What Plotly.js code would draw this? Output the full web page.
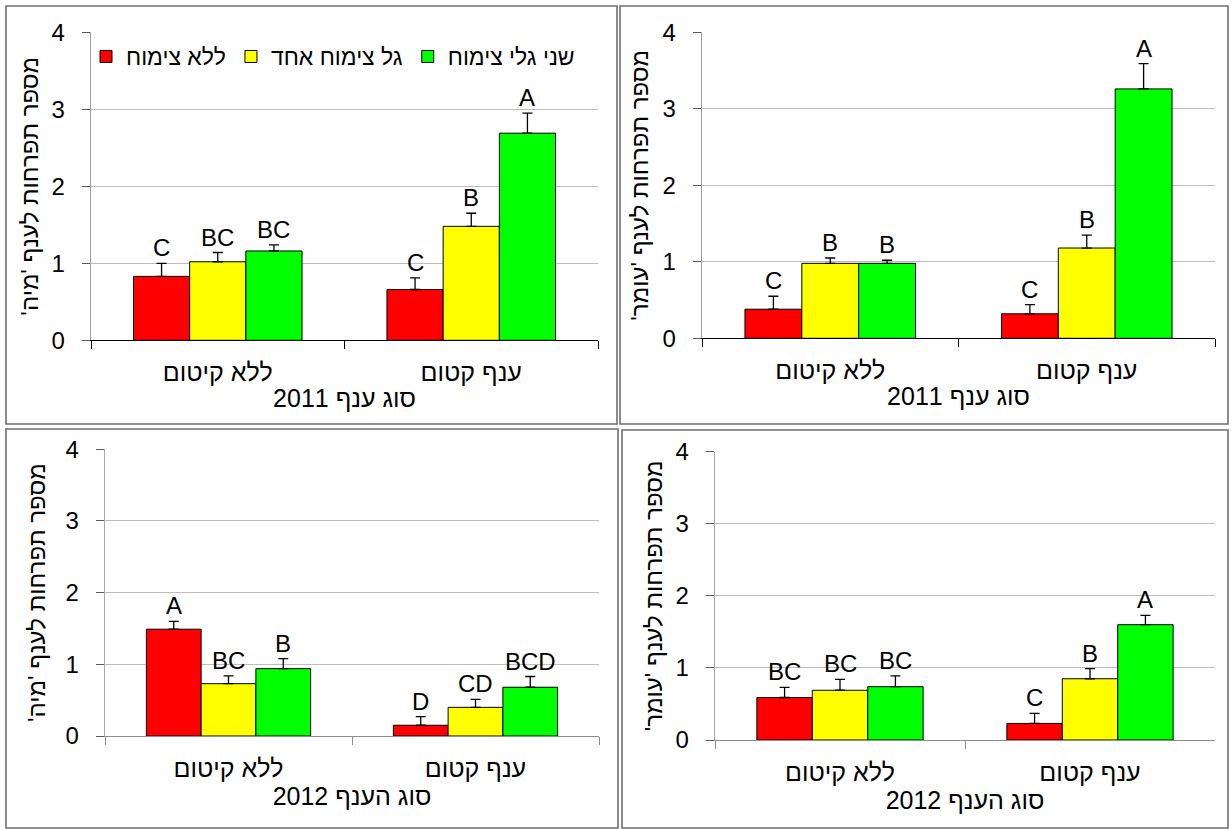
<!DOCTYPE html>
<html>
<head>
<meta charset="utf-8">
<script src="https://cdn.plot.ly/plotly-3.0.1.min.js"></script>
<style>
  html, body { margin: 0; padding: 0; background: #fff; }
  #chart { width: 1232px; height: 830px; }
</style>
</head>
<body>
<div id="chart"></div>
<script>
// ---------- data ----------
const categories = ['ללא קיטום', 'ענף קטום'];
const seriesNames = ['ללא צימוח', 'גל צימוח אחד', 'שני גלי צימוח'];

// Panel 1: 'מיה' 2011
const maya2011_none = [0.83, 0.66];
const maya2011_one  = [1.02, 1.48];
const maya2011_two  = [1.16, 2.69];
const maya2011_none_err = [0.17, 0.15];
const maya2011_one_err  = [0.12, 0.17];
const maya2011_two_err  = [0.08, 0.26];
const maya2011_none_lbl = ['C', 'C'];
const maya2011_one_lbl  = ['BC', 'B'];
const maya2011_two_lbl  = ['BC', 'A'];

// Panel 2: 'עומר' 2011
const omer2011_none = [0.38, 0.32];
const omer2011_one  = [0.98, 1.18];
const omer2011_two  = [0.98, 3.26];
const omer2011_none_err = [0.17, 0.12];
const omer2011_one_err  = [0.07, 0.17];
const omer2011_two_err  = [0.04, 0.33];
const omer2011_none_lbl = ['C', 'C'];
const omer2011_one_lbl  = ['B', 'B'];
const omer2011_two_lbl  = ['B', 'A'];

// Panel 3: 'מיה' 2012
const maya2012_none = [1.49, 0.15];
const maya2012_one  = [0.73, 0.40];
const maya2012_two  = [0.94, 0.68];
const maya2012_none_err = [0.11, 0.12];
const maya2012_one_err  = [0.11, 0.11];
const maya2012_two_err  = [0.14, 0.15];
const maya2012_none_lbl = ['A', 'D'];
const maya2012_one_lbl  = ['BC', 'CD'];
const maya2012_two_lbl  = ['B', 'BCD'];

// Panel 4: 'עומר' 2012
const omer2012_none = [0.59, 0.23];
const omer2012_one  = [0.69, 0.85];
const omer2012_two  = [0.74, 1.60];
const omer2012_none_err = [0.14, 0.14];
const omer2012_one_err  = [0.15, 0.14];
const omer2012_two_err  = [0.15, 0.13];
const omer2012_none_lbl = ['BC', 'C'];
const omer2012_one_lbl  = ['BC', 'B'];
const omer2012_two_lbl  = ['BC', 'A'];

const yTitles = ["מספר תפרחות לענף 'מיה'", "מספר תפרחות לענף 'עומר'", "מספר תפרחות לענף 'מיה'", "מספר תפרחות לענף 'עומר'"];
const xTitles = ['סוג ענף 2011', 'סוג ענף 2011', 'סוג הענף 2012', 'סוג הענף 2012'];
const yTicks = [0, 1, 2, 3, 4];

// ---------- styling / layout ----------
const W = 1232, H = 830;
const colors = ['#ff0000', '#ffff00', '#00ff00'];
const FONT = 'Arial, "Liberation Sans", "DejaVu Sans", sans-serif';
const RLM = '\u200F';
const BARGAP = 0.335;

const panels = [
  { vals: [maya2011_none, maya2011_one, maya2011_two], errs: [maya2011_none_err, maya2011_one_err, maya2011_two_err], lbls: [maya2011_none_lbl, maya2011_one_lbl, maya2011_two_lbl],
    xpx: [91, 598], ypx: [32.3, 340.3], axisColor: '#000', yline: '#9a9a9a', ystand: 6 },
  { vals: [omer2011_none, omer2011_one, omer2011_two], errs: [omer2011_none_err, omer2011_one_err, omer2011_two_err], lbls: [omer2011_none_lbl, omer2011_one_lbl, omer2011_two_lbl],
    xpx: [702, 1215], ypx: [32.3, 338.3], axisColor: '#000', yline: '#9a9a9a', ystand: 7 },
  { vals: [maya2012_none, maya2012_one, maya2012_two], errs: [maya2012_none_err, maya2012_one_err, maya2012_two_err], lbls: [maya2012_none_lbl, maya2012_one_lbl, maya2012_two_lbl],
    xpx: [105, 599], ypx: [449.3, 736], axisColor: '#8c8c8c', yline: '#a6a6a6', ystand: 13 },
  { vals: [omer2012_none, omer2012_one, omer2012_two], errs: [omer2012_none_err, omer2012_one_err, omer2012_two_err], lbls: [omer2012_none_lbl, omer2012_one_lbl, omer2012_two_lbl],
    xpx: [715, 1215], ypx: [451.7, 740], axisColor: '#8c8c8c', yline: '#a6a6a6', ystand: 6 }
];

const traces = [];
const annotations = [];
const layout = {
  width: W, height: H,
  margin: { l: 0, r: 0, t: 0, b: 0 },
  paper_bgcolor: '#fff', plot_bgcolor: 'rgba(0,0,0,0)',
  font: { family: FONT, color: '#000', size: 22 },
  barmode: 'group', bargap: BARGAP, bargroupgap: 0,
  showlegend: true,
  legend: {
    orientation: 'h', x: 86 / W, xanchor: 'left', y: 1 - 56.5 / H, yanchor: 'middle',
    bgcolor: 'rgba(0,0,0,0)', font: { size: 23, family: FONT }, traceorder: 'normal',
    itemclick: false, itemdoubleclick: false
  },
  shapes: [],
  annotations: annotations
};

panels.forEach((p, pi) => {
  const n = pi + 1;
  const xa = n === 1 ? 'x' : 'x' + n;
  const ya = n === 1 ? 'y' : 'y' + n;
  const xKey = n === 1 ? 'xaxis' : 'xaxis' + n;
  const yKey = n === 1 ? 'yaxis' : 'yaxis' + n;

  layout[xKey] = {
    domain: [p.xpx[0] / W, p.xpx[1] / W], anchor: ya, type: 'category',
    tickson: 'boundaries', ticks: 'outside', ticklen: 8, tickcolor: p.axisColor, tickwidth: 1,
    showline: true, linecolor: p.axisColor, linewidth: 1, showgrid: false, zeroline: false,
    tickfont: { size: 25, family: FONT }, ticklabelstandoff: 10,
    title: { text: xTitles[pi], font: { size: 25, family: FONT }, standoff: 4 },
    fixedrange: true
  };
  layout[yKey] = {
    domain: [1 - p.ypx[1] / H, 1 - p.ypx[0] / H], anchor: xa,
    range: [0, 4], tickvals: yTicks, ticktext: yTicks.map(String),
    ticks: 'outside', ticklen: 8, tickcolor: '#595959', tickwidth: 1,
    showline: true, linecolor: p.yline, linewidth: 1.3,
    showgrid: true, gridcolor: '#bdbdbd', gridwidth: 1, zeroline: false,
    tickfont: { size: 24, family: FONT }, ticklabelstandoff: 12,
    title: { text: yTitles[pi] + RLM, font: { size: 24, family: FONT }, standoff: p.ystand },
    fixedrange: true
  };

  const groupPx = (p.xpx[1] - p.xpx[0]) / categories.length;
  const barPx = groupPx * (1 - BARGAP) / seriesNames.length;

  seriesNames.forEach((name, si) => {
    traces.push({
      type: 'bar', name: name, x: categories, y: p.vals[si],
      xaxis: xa, yaxis: ya,
      marker: { color: colors[si], line: { color: '#000', width: 1 } },
      error_y: { type: 'data', array: p.errs[si], arrayminus: p.vals[si].map(() => 0), symmetric: false,
                 color: '#000', thickness: 1.3, width: 5 },
      legendgroup: name, showlegend: pi === 0, hoverinfo: 'skip'
    });
    categories.forEach((c, ci) => {
      annotations.push({
        xref: xa, yref: ya, x: c, y: p.vals[si][ci] + p.errs[si][ci],
        xshift: (si - 1) * barPx, yshift: 0, yanchor: 'bottom', xanchor: 'center',
        text: p.lbls[si][ci], showarrow: false, font: { size: 24, family: FONT, color: '#000' }
      });
    });
  });
});

// panel frames
const frames = [
  [6, 6, 617, 424],
  [620, 6, 1228, 424],
  [6, 429, 618, 828],
  [622, 430, 1228, 828]
];
frames.forEach(f => {
  layout.shapes.push({
    type: 'rect', xref: 'paper', yref: 'paper', layer: 'below',
    x0: f[0] / W, x1: f[2] / W, y0: 1 - f[3] / H, y1: 1 - f[1] / H,
    line: { color: '#6e6e6e', width: 1.6 }, fillcolor: 'rgba(0,0,0,0)'
  });
});

Plotly.newPlot('chart', traces, layout, { staticPlot: true, displayModeBar: false });
</script>
</body>
</html>
